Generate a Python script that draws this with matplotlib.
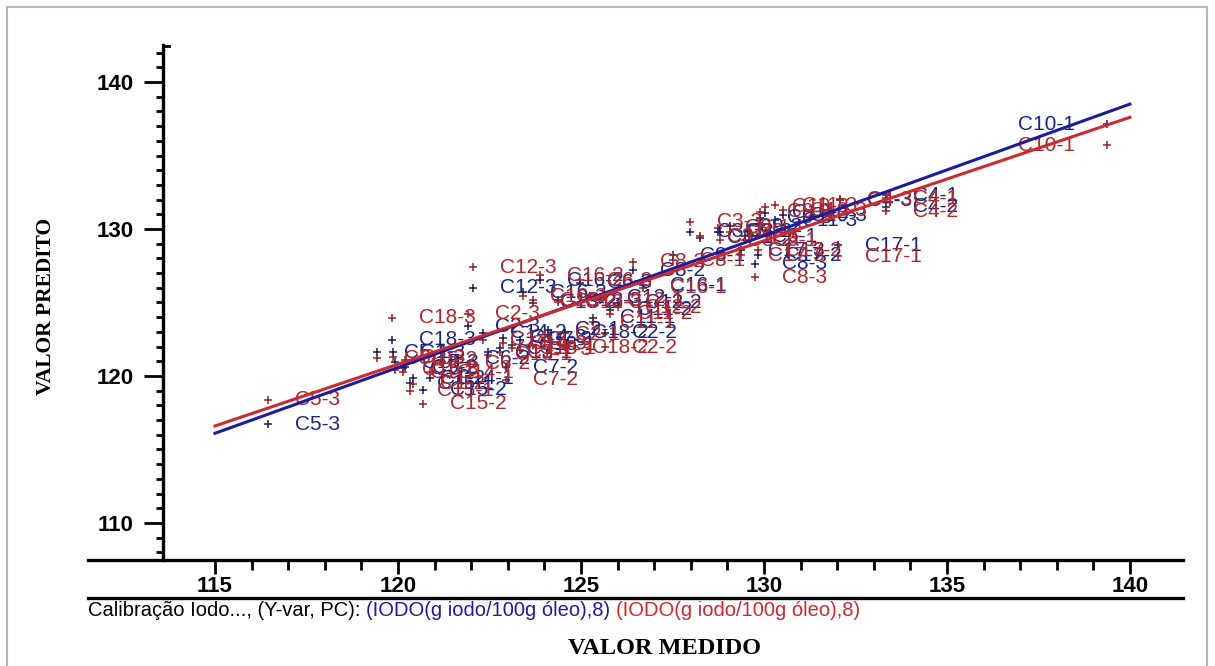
import matplotlib
matplotlib.use("Agg")
import matplotlib.pyplot as plt
from matplotlib.lines import Line2D
from matplotlib.patches import Rectangle
from matplotlib.ticker import FixedLocator

plt.rcParams['font.family'] = ['Liberation Sans', 'DejaVu Sans']

# ---- data: measured vs. predicted iodine value (g iodo / 100 g oleo) ----
samples = [
    "C1-1", "C1-2", "C1-3", "C2-1", "C2-2", "C2-3",
    "C3-1", "C3-2", "C3-3", "C4-1", "C4-2", "C4-3",
    "C5-1", "C5-2", "C5-3", "C6-1", "C6-2", "C6-3",
    "C7-1", "C7-2", "C7-3", "C8-1", "C8-2", "C8-3",
    "C9-1", "C9-2", "C9-3", "C10-1", "C10-2", "C10-3",
    "C11-1", "C11-2", "C11-3", "C12-1", "C12-2", "C12-3",
    "C13-1", "C13-2", "C13-3", "C14-1", "C14-2", "C14-3",
    "C15-1", "C15-2", "C15-3", "C16-1", "C16-2", "C16-3",
    "C17-1", "C17-2", "C17-3", "C18-1", "C18-2", "C18-3",
]
measured = [
    120.14, 120.41, 119.86, 124.10, 125.66, 121.91,
    128.25, 128.80, 127.98, 133.33, 133.33, 132.08,
    119.43, 120.19, 116.45, 129.48, 121.64, 124.97,
    122.79, 122.95, 123.33, 127.51, 126.42, 129.75,
    128.74, 129.07, 129.89, 139.37, 130.03, 130.52,
    125.33, 125.79, 130.30, 125.52, 126.01, 122.05,
    122.46, 123.69, 124.37, 120.87, 122.32, 122.87,
    120.33, 120.68, 119.92, 126.69, 123.88, 123.42,
    132.02, 129.84, 129.37, 123.11, 124.56, 119.84,
]
# calibration prediction (blue)
pred_cal = [
    120.54, 119.86, 121.63, 123.13, 122.93, 123.40,
    129.39, 129.80, 129.80, 132.31, 131.50, 131.97,
    121.63, 120.61, 116.73, 129.52, 121.22, 126.33,
    121.90, 120.61, 122.45, 128.23, 127.21, 127.62,
    129.80, 130.20, 130.75, 137.14, 131.09, 130.95,
    123.95, 124.49, 130.61, 125.31, 124.97, 125.99,
    121.63, 124.97, 125.17, 119.86, 122.93, 122.59,
    119.52, 119.05, 120.95, 126.19, 126.53, 125.71,
    128.91, 128.23, 128.57, 122.11, 122.93, 122.45,
]
# validation prediction (red)
pred_val = [
    120.27, 119.46, 121.29, 122.79, 121.97, 124.22,
    129.52, 129.25, 130.48, 132.11, 131.22, 132.04,
    121.22, 121.09, 118.37, 129.25, 120.88, 126.53,
    121.63, 119.73, 121.77, 127.89, 127.76, 126.73,
    130.07, 129.80, 131.16, 135.71, 131.50, 131.29,
    123.67, 124.22, 131.63, 125.17, 124.69, 127.41,
    121.43, 125.17, 125.03, 120.27, 122.45, 122.24,
    118.98, 118.10, 120.41, 125.99, 126.87, 125.44,
    128.16, 128.57, 128.23, 121.90, 121.97, 123.95,
]
# fitted regression lines (end points)
fit_x = [115, 140]
fit_cal = [116.1, 138.5]
fit_val = [116.6, 137.6]

x_major = [115, 120, 125, 130, 135, 140]
y_major = [110, 120, 130, 140]

# ---- colours ----
BLUE_LINE, RED_LINE = "#1c1c9c", "#cc2a2e"
BLUE_TXT, RED_TXT = "#1b2680", "#b0262c"
BLUE_PT, RED_PT = "#1a1a5a", "#9a2020"

W, H = 1215, 666
fig = plt.figure(figsize=(W / 100, H / 100), dpi=100)
fig.patch.set_facecolor("white")

ax = fig.add_axes([88 / W, 1 - 560 / H, (1183 - 88) / W, (560 - 45) / H])
ax.set_xlim(111.53, 141.45)
ax.set_ylim(107.48, 142.52)
ax.patch.set_alpha(0)

for s in ("top", "right"):
    ax.spines[s].set_visible(False)
ax.spines["left"].set_position(("data", 113.58))
ax.spines["left"].set_linewidth(2.4)
ax.spines["bottom"].set_linewidth(2.4)

ax.xaxis.set_major_locator(FixedLocator(x_major))
ax.xaxis.set_minor_locator(FixedLocator([v for v in range(115, 141) if v % 5]))
ax.yaxis.set_major_locator(FixedLocator(y_major))
ax.yaxis.set_minor_locator(FixedLocator([v for v in range(108, 143) if v % 10]))

ax.tick_params(axis="x", which="major", direction="out", length=10, width=2,
               labelsize=16, pad=1.5)
ax.tick_params(axis="x", which="minor", direction="out", length=7, width=2)
ax.tick_params(axis="y", which="major", direction="out", length=14, width=2,
               labelsize=16, pad=7)
ax.tick_params(axis="y", which="minor", direction="out", length=5, width=2)
for lab in ax.get_xticklabels() + ax.get_yticklabels():
    lab.set_fontweight("bold")

# scatter points with sample labels
for xs, ys, pc, tc in ((measured, pred_cal, BLUE_PT, BLUE_TXT),
                       (measured, pred_val, RED_PT, RED_TXT)):
    ax.plot(xs, ys, "+", ms=5.5, mew=1.1, color=pc, zorder=3)
    for name, xv, yv in zip(samples, xs, ys):
        if xv > 138:
            off, ha = (-32, 0), "right"
        else:
            off, ha = (27, 0), "left"
        ax.annotate(name, (xv, yv), xytext=off, textcoords="offset pixels",
                    ha=ha, va="center", fontsize=15, color=tc, zorder=4)

# regression lines
ax.plot(fit_x, fit_cal, color=BLUE_LINE, lw=2.2, zorder=5)
ax.plot(fit_x, fit_val, color=RED_LINE, lw=2.2, zorder=5)

# small cap at the top of the y axis
fig.add_artist(Line2D([163 / W, 169 / W], [1 - 46 / H, 1 - 46 / H],
                      color="black", lw=2, transform=fig.transFigure))
# separator line above the legend
fig.add_artist(Line2D([88 / W, 1183 / W], [1 - 598 / H, 1 - 598 / H],
                      color="black", lw=2.4, transform=fig.transFigure))
# outer frame
fig.add_artist(Rectangle((7 / W, -0.1), (1207 - 7) / W, 1 - 7 / H + 0.1,
                         fill=False, ec="#b8b8b8", lw=1.5,
                         transform=fig.transFigure))

# axis titles
fig.text(46 / W, 1 - 306 / H, "VALOR PREDITO", rotation=90, ha="center",
         va="center", fontsize=15.5, fontweight="bold",
         family=["Liberation Serif", "DejaVu Serif"])
fig.text(664 / W, 1 - 648 / H, "VALOR MEDIDO", ha="center", va="center",
         fontsize=17.5, fontweight="bold",
         family=["Liberation Serif", "DejaVu Serif"])

# legend line
legend_parts = [
    ("Calibração Iodo..., (Y-var, PC): ", "black"),
    ("(IODO(g iodo/100g óleo),8) ", BLUE_LINE),
    ("(IODO(g iodo/100g óleo),8)", RED_LINE),
]
renderer = fig.canvas.get_renderer()
xpos = 88
for text, col in legend_parts:
    t = fig.text(xpos / W, 1 - 611 / H, text, color=col, ha="left", va="center",
                 fontsize=14.5, family=["Liberation Sans", "DejaVu Sans"])
    xpos += t.get_window_extent(renderer).width

fig.savefig("out.png", dpi=100, facecolor="white")
